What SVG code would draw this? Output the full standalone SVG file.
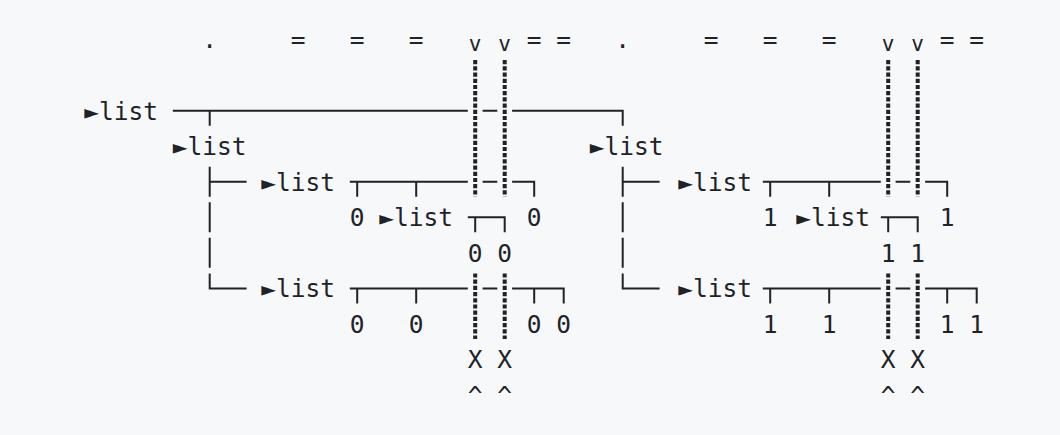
<svg xmlns="http://www.w3.org/2000/svg" width="1060" height="435" viewBox="0 0 1060 435">
<style>
.t{font-family:"DejaVu Sans Mono","Liberation Mono",monospace;font-size:24.5px;fill:#1f2328}
.m{text-anchor:middle}
.v{font-family:"DejaVu Sans Mono","Liberation Mono",monospace;font-size:21px;fill:#1f2328;text-anchor:middle}
.c{stroke:#1f2328;stroke-width:2;fill:none}
.d{stroke:#1f2328;stroke-width:4;stroke-dasharray:4.2 2;fill:none}
</style>
<rect width="1060" height="435" fill="#f6f8fa"/>
<g id="marks-top">
<text class="t m" x="209.7" y="48.4">.</text>
<text class="t m" x="298.2" y="48.4">=</text>
<text class="t m" x="357.2" y="48.4">=</text>
<text class="t m" x="416.2" y="48.4">=</text>
<text class="v" x="475.2" y="50.5">v</text>
<text class="v" x="504.7" y="50.5">v</text>
<text class="t m" x="534.2" y="48.4">=</text>
<text class="t m" x="563.7" y="48.4">=</text>
<text class="t m" x="622.7" y="48.4">.</text>
<text class="t m" x="711.2" y="48.4">=</text>
<text class="t m" x="770.2" y="48.4">=</text>
<text class="t m" x="829.2" y="48.4">=</text>
<text class="v" x="888.2" y="50.5">v</text>
<text class="v" x="917.7" y="50.5">v</text>
<text class="t m" x="947.2" y="48.4">=</text>
<text class="t m" x="976.7" y="48.4">=</text>
</g>
<g id="connectors">
<path class="c" d="M172.8 110.7H467.8M209.7 110.7V125.7M482.6 110.7H497.3M512.1 110.7H622.7V125.7"/>
<path class="c" d="M209.7 166.8V196.8M209.7 181.8H246.6M209.7 202.3V232.3M209.7 237.8V267.8M209.7 273.4V288.4H246.6"/>
<path class="c" d="M349.8 181.8H467.8M357.2 181.8V196.8M416.2 181.8V196.8M482.6 181.8H497.3M512.1 181.8H534.2V196.8"/>
<path class="c" d="M467.8 217.3H504.7V232.3M475.2 217.3V232.3"/>
<path class="c" d="M349.8 288.4H467.8M357.2 288.4V303.4M416.2 288.4V303.4M482.6 288.4H497.3M512.1 288.4H563.7V303.4M534.2 288.4V303.4"/>
<path class="c" d="M622.7 166.8V196.8M622.7 181.8H659.6M622.7 202.3V232.3M622.7 237.8V267.8M622.7 273.4V288.4H659.6"/>
<path class="c" d="M762.8 181.8H880.8M770.2 181.8V196.8M829.2 181.8V196.8M895.6 181.8H910.3M925.1 181.8H947.2V196.8"/>
<path class="c" d="M880.8 217.3H917.7V232.3M888.2 217.3V232.3"/>
<path class="c" d="M762.8 288.4H880.8M770.2 288.4V303.4M829.2 288.4V303.4M895.6 288.4H910.3M925.1 288.4H976.7V303.4M947.2 288.4V303.4"/>
<path class="d" d="M475.2 60.1V196.8M504.7 60.1V196.8M475.2 273.4V338.9M504.7 273.4V338.9M888.2 60.1V196.8M917.7 60.1V196.8M888.2 273.4V338.9M917.7 273.4V338.9"/>
</g>
<g id="root"><text class="t" x="84.3" y="119.5">►list</text></g>
<g id="left"><text class="t" x="172.8" y="155">►list</text></g>
<g id="right"><text class="t" x="589.8" y="155">►list</text></g>
<g id="left-a"><text class="t" x="261.3" y="190.6">►list</text></g>
<g id="left-a-0"><text class="t m" x="357.2" y="226.1">0</text></g>
<g id="left-a-nested"><text class="t" x="379.3" y="226.1">►list</text></g>
<g id="left-a-nested-0a"><text class="t m" x="475.2" y="261.6">0</text></g>
<g id="left-a-nested-0b"><text class="t m" x="504.7" y="261.6">0</text></g>
<g id="left-a-last"><text class="t m" x="534.2" y="226.1">0</text></g>
<g id="left-b"><text class="t" x="261.3" y="297.2">►list</text></g>
<g id="left-b-leaves">
<text class="t m" x="357.2" y="332.7">0</text>
<text class="t m" x="416.2" y="332.7">0</text>
<text class="t m" x="534.2" y="332.7">0</text>
<text class="t m" x="563.7" y="332.7">0</text>
</g>
<g id="right-a"><text class="t" x="678.3" y="190.6">►list</text></g>
<g id="right-a-1"><text class="t m" x="770.2" y="226.1">1</text></g>
<g id="right-a-nested"><text class="t" x="796.3" y="226.1">►list</text></g>
<g id="right-a-nested-1a"><text class="t m" x="888.2" y="261.6">1</text></g>
<g id="right-a-nested-1b"><text class="t m" x="917.7" y="261.6">1</text></g>
<g id="right-a-last"><text class="t m" x="947.2" y="226.1">1</text></g>
<g id="right-b"><text class="t" x="678.3" y="297.2">►list</text></g>
<g id="right-b-leaves">
<text class="t m" x="770.2" y="332.7">1</text>
<text class="t m" x="829.2" y="332.7">1</text>
<text class="t m" x="947.2" y="332.7">1</text>
<text class="t m" x="976.7" y="332.7">1</text>
</g>
<g id="marks-bottom">
<text class="t m" x="475.2" y="368.3">X</text>
<text class="t m" x="504.7" y="368.3">X</text>
<text class="t m" x="888.2" y="368.3">X</text>
<text class="t m" x="917.7" y="368.3">X</text>
<text class="t m" x="475.2" y="403.8">^</text>
<text class="t m" x="504.7" y="403.8">^</text>
<text class="t m" x="888.2" y="403.8">^</text>
<text class="t m" x="917.7" y="403.8">^</text>
</g>
</svg>
